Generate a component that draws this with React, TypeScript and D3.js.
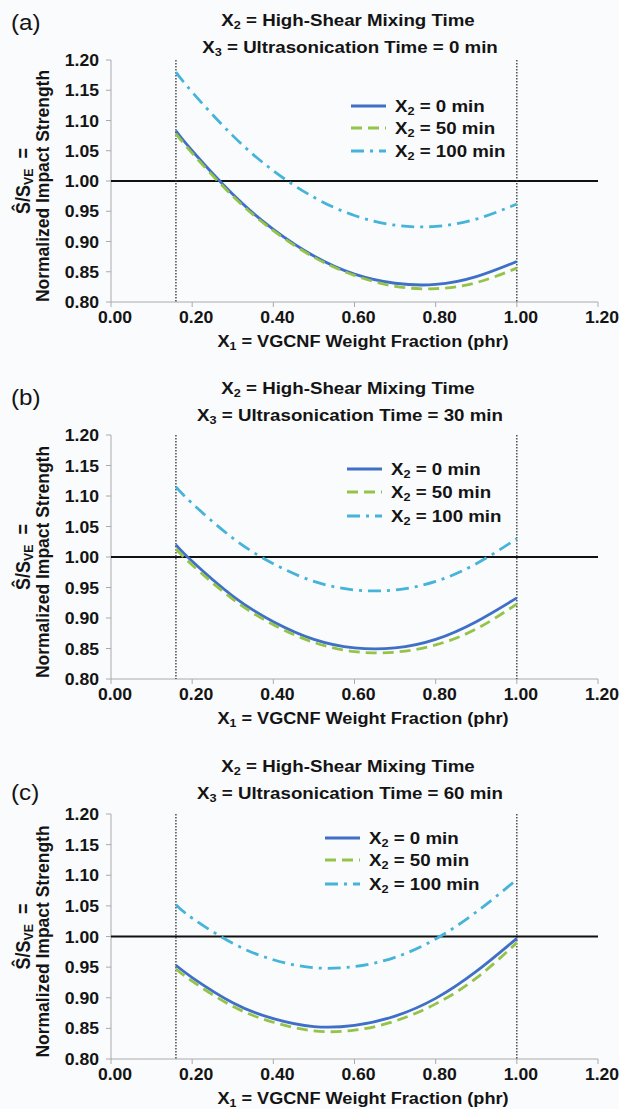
import React from 'react';
import * as d3 from 'd3';

// X1 sample points (phr) along each curve
const X1 = [0.16, 0.2, 0.3, 0.4, 0.5, 0.6, 0.7, 0.8, 0.9, 1.0];

// (a) X3 = 0 min
const a_x2_0 = [1.083, 1.05, 0.978, 0.92, 0.876, 0.846, 0.831, 0.829, 0.842, 0.867];
const a_x2_50 = [1.078, 1.046, 0.975, 0.918, 0.874, 0.844, 0.826, 0.822, 0.832, 0.856];
const a_x2_100 = [1.18, 1.147, 1.075, 1.017, 0.973, 0.943, 0.927, 0.925, 0.937, 0.962];

// (b) X3 = 30 min
const b_x2_0 = [1.02, 0.993, 0.936, 0.894, 0.865, 0.851, 0.851, 0.865, 0.894, 0.933];
const b_x2_50 = [1.013, 0.987, 0.931, 0.889, 0.86, 0.845, 0.844, 0.856, 0.882, 0.923];
const b_x2_100 = [1.115, 1.088, 1.031, 0.989, 0.96, 0.946, 0.946, 0.96, 0.989, 1.03];

// (c) X3 = 60 min
const c_x2_0 = [0.953, 0.933, 0.892, 0.866, 0.853, 0.855, 0.87, 0.899, 0.943, 0.997];
const c_x2_50 = [0.947, 0.927, 0.886, 0.86, 0.846, 0.847, 0.862, 0.89, 0.932, 0.99];
const c_x2_100 = [1.052, 1.03, 0.989, 0.962, 0.949, 0.951, 0.966, 0.996, 1.04, 1.093];

const X_TICKS = [0, 0.2, 0.4, 0.6, 0.8, 1.0, 1.2];
const Y_TICKS = [0.8, 0.85, 0.9, 0.95, 1.0, 1.05, 1.1, 1.15, 1.2];
const BOUNDS = [0.16, 1.0];
const PANEL_LABELS = ['(a)', '(b)', '(c)'];
const ULTRA_TIMES = ['0', '30', '60'];
const LEGEND_LABELS = ['0 min', '50 min', '100 min'];

const SERIES = [
  [a_x2_0, a_x2_50, a_x2_100],
  [b_x2_0, b_x2_50, b_x2_100],
  [c_x2_0, c_x2_50, c_x2_100],
];

const styles = [
  { color: '#3f6fc6', dash: null },
  { color: '#94c447', dash: '11,6' },
  { color: '#45b4d8', dash: '13,6,3,6' },
];

// page layout for the three stacked panels
const layout = [
  { top: 60, bottom: 302, t1: 26, t2: 53, tick: 323, xl: 347, leg: [106, 128, 151], legX: 351, lab: 30 },
  { top: 435, bottom: 679, t1: 394, t2: 421, tick: 700, xl: 724, leg: [469, 492, 516], legX: 347, lab: 405 },
  { top: 814, bottom: 1059, t1: 772, t2: 799, tick: 1080, xl: 1104, leg: [838, 860, 884], legX: 325, lab: 800 },
];

const FONT = '"Liberation Sans", Arial, sans-serif';
const SX = 1.1; // glyphs in the figure are a bit wide for their height

const HText = ({ x, y, size, anchor = 'start', weight = 'bold', children }) => (
  <text transform={`translate(${x},${y}) scale(${SX},1)`} fontSize={size}
    textAnchor={anchor} fontWeight={weight}>{children}</text>
);

const Sub = ({ base, sub, rest }) => (
  <>
    <tspan>{base}</tspan>
    <tspan fontSize="0.68em" dy="3">{sub}</tspan>
    <tspan dy="-3">{rest}</tspan>
  </>
);

const Panel = ({ idx }) => {
  const L = layout[idx];
  const x = d3.scaleLinear().domain([0, 1.2]).range([111, 598]);
  const y = d3.scaleLinear().domain([0.8, 1.2]).range([L.bottom, L.top]);
  const fmt = d3.format('.2f');
  const line = d3.line<number>()
    .x((d, i) => x(X1[i]))
    .y(d => y(d))
    .curve(d3.curveNatural);
  const midY = (L.top + L.bottom) / 2;

  return (
    <g fontFamily={FONT} fill="#141414">
      <HText x={11} y={L.lab} size={22} weight="normal">{PANEL_LABELS[idx]}</HText>
      <HText x={348} y={L.t1} size={17} anchor="middle">
        <Sub base="X" sub="2" rest=" = High-Shear Mixing Time" />
      </HText>
      <HText x={350} y={L.t2} size={17} anchor="middle">
        <Sub base="X" sub="3" rest={` = Ultrasonication Time = ${ULTRA_TIMES[idx]} min`} />
      </HText>

      {/* y axis */}
      <line x1={x(0)} x2={x(0)} y1={L.top} y2={L.bottom} stroke="#aaa" />
      {Y_TICKS.map(t => (
        <g key={t}>
          <line x1={x(0) - 5} x2={x(0)} y1={y(t)} y2={y(t)} stroke="#aaa" />
          <HText x={99} y={y(t) + 6} size={16} anchor="end">{fmt(t)}</HText>
        </g>
      ))}
      {/* x axis */}
      <line x1={x(0)} x2={x(1.2)} y1={L.bottom} y2={L.bottom} stroke="#aaa" />
      {X_TICKS.map(t => (
        <g key={t}>
          <line x1={x(t)} x2={x(t)} y1={L.bottom} y2={L.bottom + 5} stroke="#aaa" />
          <HText x={x(t) + 4} y={L.tick} size={16} anchor="middle">{fmt(t)}</HText>
        </g>
      ))}

      <text transform={`translate(30,${midY}) rotate(-90) scale(1,1.1)`} fontSize={18}
        fontWeight="bold" textAnchor="middle">
        <tspan>Ŝ/S</tspan>
        <tspan fontSize="0.68em" dy="3">VE</tspan>
        <tspan dy="-3">{'\u00a0 ='}</tspan>
      </text>
      <text transform={`translate(49,${midY + 5}) rotate(-90) scale(1,1.1)`} fontSize={17.5}
        fontWeight="bold" textAnchor="middle">
        Normalized Impact Strength
      </text>
      <HText x={363} y={L.xl} size={16.5} anchor="middle">
        <Sub base="X" sub="1" rest=" = VGCNF Weight Fraction (phr)" />
      </HText>

      {/* reference lines */}
      <line x1={x(0)} x2={x(1.2)} y1={y(1)} y2={y(1)} stroke="#111" strokeWidth={2} />
      {BOUNDS.map(b => (
        <line key={b} x1={x(b)} x2={x(b)} y1={L.top} y2={L.bottom}
          stroke="#333" strokeWidth={1.3} strokeDasharray="1.5,1.5" />
      ))}

      {SERIES[idx].map((s, i) => (
        <path key={i} d={line(s) || ''} fill="none" stroke={styles[i].color}
          strokeWidth={2.8} strokeDasharray={styles[i].dash || undefined} />
      ))}

      {/* legend */}
      {LEGEND_LABELS.map((lab, i) => (
        <g key={lab}>
          <line x1={L.legX} x2={L.legX + 35} y1={L.leg[i]} y2={L.leg[i]}
            stroke={styles[i].color} strokeWidth={2.8} strokeDasharray={styles[i].dash || undefined} />
          <HText x={L.legX + 44} y={L.leg[i] + 6} size={17}>
            <Sub base="X" sub="2" rest={` = ${lab}`} />
          </HText>
        </g>
      ))}
    </g>
  );
};

export default function App() {
  return (
    <svg width={619} height={1109} style={{ position: 'absolute', left: 0, top: 0, background: '#fafbfd' }}>
      {[0, 1, 2].map(i => <Panel key={i} idx={i} />)}
    </svg>
  );
}
